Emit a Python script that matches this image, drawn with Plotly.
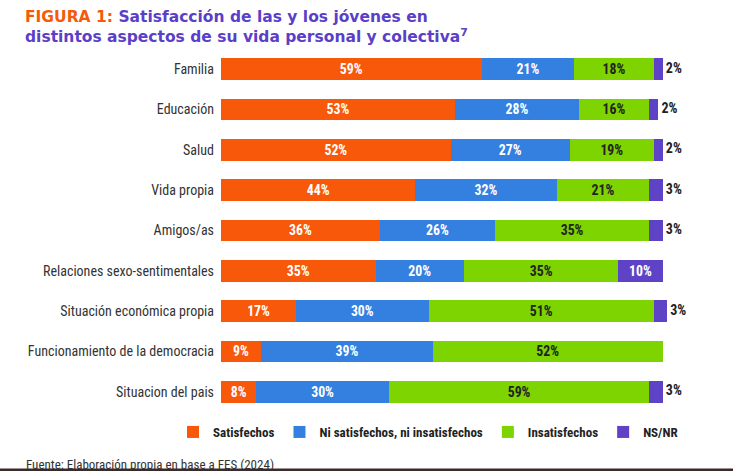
import plotly.graph_objects as go

categories = ["Familia", "Educación", "Salud", "Vida propia", "Amigos/as",
              "Relaciones sexo-sentimentales", "Situación económica propia",
              "Funcionamiento de la democracia", "Situacion del pais"]
satisfechos = [59, 53, 52, 44, 36, 35, 17, 9, 8]
ni_ni = [21, 28, 27, 32, 26, 20, 30, 39, 30]
insatisfechos = [18, 16, 19, 21, 35, 35, 51, 52, 59]
nsnr = [2, 2, 2, 3, 3, 10, 3, 0, 3]

series = [
    ("Satisfechos", satisfechos, "#F7580A", "white"),
    ("Ni satisfechos, ni insatisfechos", ni_ni, "#3480E0", "white"),
    ("Insatisfechos", insatisfechos, "#7ED400", "#222222"),
    ("NS/NR", nsnr, "#5E43C6", "white"),
]

label_font = "Liberation Sans Narrow, Roboto Condensed, Arial Narrow, Roboto, sans-serif"

fig = go.Figure()
for name, vals, color, tcolor in series:
    inside = [f"{v}%" if (v and not (name == "NS/NR" and v < 5)) else "" for v in vals]
    fig.add_trace(go.Bar(
        y=categories, x=vals, name=name, orientation="h",
        marker=dict(color=color, line=dict(width=0)),
        text=inside, textposition="inside", insidetextanchor="middle",
        textangle=0,
        textfont=dict(color=tcolor, size=14, family=label_font, weight="bold"),
        hoverinfo="skip",
    ))

# outside labels for small NS/NR values
totals = [a + b + c + d for a, b, c, d in zip(satisfechos, ni_ni, insatisfechos, nsnr)]
out_text = [f" {v}%" if 0 < v < 5 else "" for v in nsnr]
fig.add_trace(go.Scatter(
    y=categories, x=totals, mode="text", text=out_text,
    textposition="middle right", showlegend=False, hoverinfo="skip",
    textfont=dict(color="#222222", size=14, family=label_font, weight="bold"),
    cliponaxis=False,
))

fig.update_layout(
    barmode="stack",
    bargap=0.46,
    width=733, height=471,
    margin=dict(l=221, r=66, t=49, b=59),
    plot_bgcolor="white", paper_bgcolor="white",
    xaxis=dict(range=[0, 101], visible=False, fixedrange=True),
    yaxis=dict(autorange="reversed", showgrid=False, zeroline=False, showline=False,
               ticks="", ticklabelstandoff=6,
               tickfont=dict(size=14, color="#333333", family=label_font)),
    uniformtext=dict(mode=False),
    legend=dict(
        orientation="h", xref="paper", x=(173 - 221) / 446, xanchor="left",
        y=-(432 - 412) / 363, yanchor="middle",
        font=dict(size=13, color="#222222", family=label_font, weight="bold"),
        itemsizing="constant", traceorder="normal",
    ),
    showlegend=True,
)

fig.add_annotation(
    text="<span style='color:#F55A0A'>FIGURA 1:</span> Satisfacción de las y los jóvenes en<br>distintos aspectos de su vida personal y colectiva<sup>7</sup>",
    xref="paper", yref="paper", x=-198/446, y=1 + (49 - 6) / 363,
    xanchor="left", yanchor="top", align="left", showarrow=False,
    font=dict(size=15.5, color="#5B3FC8", family="DejaVu Sans", weight="bold"),
)
fig.add_annotation(
    text="Fuente: Elaboración propia en base a FES (2024)",
    xref="paper", yref="paper", x=-197/446, y=-(464 - 412) / 363,
    xanchor="left", yanchor="middle", showarrow=False,
    font=dict(size=13, color="#333333", family=label_font),
)
fig.add_shape(
    type="line", xref="paper", yref="paper",
    x0=-221/446, x1=1 + 66/446, y0=-(470 - 412) / 363, y1=-(470 - 412) / 363,
    line=dict(color="#3A2A2A", width=3),
)

fig.write_html("out.html")
